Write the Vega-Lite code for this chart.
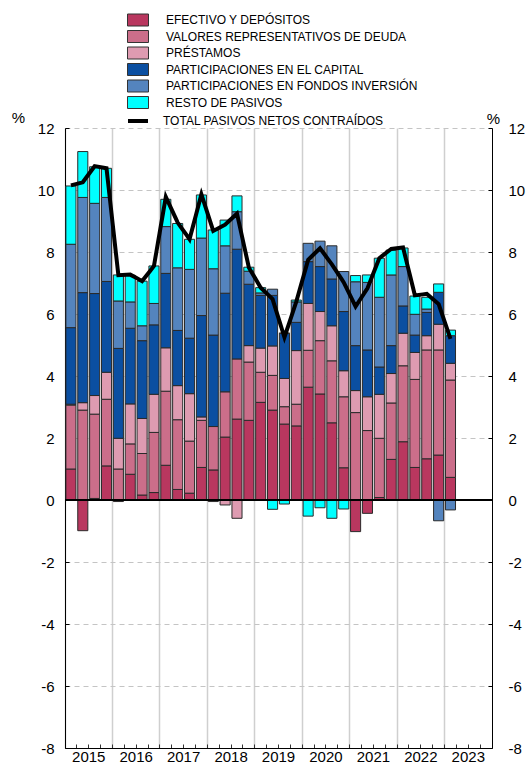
{
"$schema": "https://vega.github.io/schema/vega-lite/v6.json",
"width": 427, "height": 620,
"autosize": {"type": "none"},
"padding": {"left": 65, "top": 128, "right": 35, "bottom": 17},
"background": "white",
"config": {"view": {"stroke": null}, "font": "Liberation Sans"},
"data": {"values": [
{"t":"2015-T1","s1":1.0,"s2":2.06,"s3":0.03,"s4":2.47,"s5":2.69,"s6":1.88,"total":10.15},
{"t":"2015-T2","s1":-0.99,"s2":2.9,"s3":0.24,"s4":3.55,"s5":3.07,"s6":1.48,"total":10.25},
{"t":"2015-T3","s1":0.05,"s2":2.72,"s3":0.6,"s4":3.29,"s5":2.91,"s6":1.18,"total":10.77},
{"t":"2015-T4","s1":1.1,"s2":2.15,"s3":0.87,"s4":2.93,"s5":2.71,"s6":0.94,"total":10.7},
{"t":"2016-T1","s1":-0.05,"s2":1.0,"s3":0.99,"s4":2.9,"s5":1.53,"s6":0.84,"total":7.25},
{"t":"2016-T2","s1":0.83,"s2":0.98,"s3":1.29,"s4":2.44,"s5":0.85,"s6":0.86,"total":7.27},
{"t":"2016-T3","s1":0.16,"s2":1.34,"s3":1.13,"s4":2.51,"s5":0.48,"s6":1.44,"total":7.06},
{"t":"2016-T4","s1":0.24,"s2":1.94,"s3":1.23,"s4":2.24,"s5":0.69,"s6":1.21,"total":7.55},
{"t":"2017-T1","s1":1.12,"s2":2.39,"s3":1.4,"s4":2.4,"s5":1.51,"s6":0.88,"total":9.78},
{"t":"2017-T2","s1":0.34,"s2":2.25,"s3":1.1,"s4":1.78,"s5":2.02,"s6":1.43,"total":8.95},
{"t":"2017-T3","s1":0.22,"s2":1.68,"s3":1.53,"s4":1.79,"s5":2.22,"s6":0.97,"total":8.41},
{"t":"2017-T4","s1":1.05,"s2":1.52,"s3":0.11,"s4":3.27,"s5":2.5,"s6":1.39,"total":9.86},
{"t":"2018-T1","s1":0.97,"s2":1.4,"s3":-0.05,"s4":2.95,"s5":2.14,"s6":1.25,"total":8.68},
{"t":"2018-T2","s1":2.03,"s2":1.46,"s3":-0.16,"s4":3.18,"s5":1.53,"s6":0.83,"total":8.88},
{"t":"2018-T3","s1":2.61,"s2":1.94,"s3":-0.59,"s4":3.54,"s5":1.21,"s6":0.51,"total":9.24},
{"t":"2018-T4","s1":2.57,"s2":1.88,"s3":0.53,"s4":1.98,"s5":0.42,"s6":0.13,"total":7.5},
{"t":"2019-T1","s1":3.15,"s2":0.97,"s3":0.78,"s4":1.7,"s5":0.08,"s6":0.17,"total":6.85},
{"t":"2019-T2","s1":2.9,"s2":1.12,"s3":0.95,"s4":1.63,"s5":0.2,"s6":-0.3,"total":6.48},
{"t":"2019-T3","s1":2.45,"s2":0.56,"s3":0.91,"s4":1.46,"s5":0,"s6":-0.13,"total":5.25},
{"t":"2019-T4","s1":2.39,"s2":0.7,"s3":1.73,"s4":0.91,"s5":0.66,"s6":0.06,"total":6.4},
{"t":"2020-T1","s1":3.64,"s2":1.19,"s3":1.51,"s4":1.35,"s5":0.59,"s6":-0.52,"total":7.75},
{"t":"2020-T2","s1":3.42,"s2":1.72,"s3":0.94,"s4":1.45,"s5":0.82,"s6":-0.25,"total":8.12},
{"t":"2020-T3","s1":2.49,"s2":2.0,"s3":1.13,"s4":1.51,"s5":1.07,"s6":-0.59,"total":7.6},
{"t":"2020-T4","s1":1.04,"s2":2.29,"s3":0.84,"s4":1.91,"s5":1.29,"s6":-0.29,"total":7.02},
{"t":"2021-T1","s1":-1.02,"s2":2.82,"s3":0.71,"s4":1.45,"s5":2.06,"s6":0.2,"total":6.24},
{"t":"2021-T2","s1":-0.43,"s2":2.24,"s3":1.09,"s4":1.51,"s5":2.18,"s6":0.24,"total":6.83},
{"t":"2021-T3","s1":0.08,"s2":1.91,"s3":1.42,"s4":0.88,"s5":2.25,"s6":1.26,"total":7.8},
{"t":"2021-T4","s1":1.31,"s2":1.82,"s3":0.95,"s4":0.9,"s5":2.28,"s6":0.8,"total":8.1},
{"t":"2022-T1","s1":1.88,"s2":2.45,"s3":1.05,"s4":0.88,"s5":1.27,"s6":0.6,"total":8.15},
{"t":"2022-T2","s1":1.05,"s2":2.84,"s3":0.87,"s4":0.56,"s5":0.67,"s6":0.59,"total":6.6},
{"t":"2022-T3","s1":1.33,"s2":3.51,"s3":0.46,"s4":0.75,"s5":0.11,"s6":0.38,"total":6.65},
{"t":"2022-T4","s1":1.45,"s2":3.39,"s3":0.83,"s4":1.03,"s5":-0.67,"s6":0.27,"total":6.32},
{"t":"2023-T1","s1":0.73,"s2":3.14,"s3":0.54,"s4":0.89,"s5":-0.32,"s6":0.18,"total":5.2}
]},
"transform": [{"fold": ["s1","s2","s3","s4","s5","s6","total"], "as": ["serie","valor"]}],
"layer": [
{
"transform": [{"filter": "datum.serie !== 'total'"}],
"mark": {"type": "bar", "stroke": "#2a2a2a", "strokeWidth": 1},
"encoding": {
"x": {"field": "t", "type": "ordinal",
"scale": {"domain": ["2015-T1","2015-T2","2015-T3","2015-T4","2016-T1","2016-T2","2016-T3","2016-T4","2017-T1","2017-T2","2017-T3","2017-T4","2018-T1","2018-T2","2018-T3","2018-T4","2019-T1","2019-T2","2019-T3","2019-T4","2020-T1","2020-T2","2020-T3","2020-T4","2021-T1","2021-T2","2021-T3","2021-T4","2022-T1","2022-T2","2022-T3","2022-T4","2023-T1","2023-T2","2023-T3","2023-T4"], "paddingInner": 0.15, "paddingOuter": 0.075},
"axis": {"title": null, "orient": "bottom", "bandPosition": -0.088,
"labelExpr": "substring(datum.value,5)=='T1' ? substring(datum.value,0,4) : ''",
"labelAngle": 0, "labelAlign": "center", "labelBaseline": "top", "labelOffset": 17.8, "labelPadding": 5,
"labelFontSize": 15, "labelColor": "black", "labelOverlap": false, "labelBound": false,
"grid": true, "gridColor": "#cfcfcf", "gridWidth": 1.5,
"gridOpacity": {"condition": {"test": "substring(datum.value,5)=='T1'", "value": 1}, "value": 0},
"tickSize": -4, "tickColor": "#333", "tickWidth": 1, "domainColor": "black", "domainWidth": 1}},
"y": {"field": "valor", "type": "quantitative", "stack": "zero",
"scale": {"domain": [-8, 12], "nice": false, "zero": false},
"axis": {"orient": "left", "values": [-8,-6,-4,-2,0,2,4,6,8,10,12], "labelExpr": "datum.value + ''", "grid": true, "gridColor": "#c4c4c4", "gridDash": [5,4], "gridWidth": 1,
"domainColor": "black", "tickColor": "black", "tickSize": -4, "labelFontSize": 15, "labelColor": "black", "labelPadding": 15,
"title": "%", "titleAngle": 0, "titleX": -47, "titleY": -11, "titleAlign": "center", "titleBaseline": "middle", "titleFontSize": 15, "titleFontWeight": "normal", "titleColor": "black"}},
"order": {"field": "serie", "sort": "ascending"},
"color": {"field": "serie", "type": "nominal",
"scale": {"domain": ["s1","s2","s3","s4","s5","s6"], "range": ["#B9375F","#CB6E8A","#DE9BB1","#0B4FA1","#5484BE","#00FFFF"]},
"legend": {"orient": "none", "legendX": 65, "legendY": -116, "title": null, "direction": "vertical", "padding": 0,
"symbolType": "M-1.4,-0.8H1.4V0.8H-1.4Z", "symbolSize": 225, "symbolStrokeWidth": 1, "symbolStrokeColor": "#333", "symbolOpacity": 1,
"labelFontSize": 12, "labelColor": "black", "labelOffset": 20, "rowPadding": 0.5, "labelLimit": 400,
"labelExpr": "datum.value=='s1'?'EFECTIVO Y DEPÓSITOS':datum.value=='s2'?'VALORES REPRESENTATIVOS DE DEUDA':datum.value=='s3'?'PRÉSTAMOS':datum.value=='s4'?'PARTICIPACIONES EN EL CAPITAL':datum.value=='s5'?'PARTICIPACIONES EN FONDOS INVERSIÓN':'RESTO DE PASIVOS'"}}
}
},
{
"mark": {"type": "rule", "color": "black", "strokeWidth": 1},
"encoding": {"y": {"datum": 0, "type": "quantitative", "scale": {"domain": [-8, 12], "nice": false, "zero": false}, "axis": null}}
},
{
"transform": [{"filter": "datum.serie === 'total'"}],
"mark": {"type": "line", "color": "black", "strokeWidth": 4, "strokeJoin": "miter"},
"encoding": {
"x": {"field": "t", "type": "ordinal",
"scale": {"domain": ["2015-T1","2015-T2","2015-T3","2015-T4","2016-T1","2016-T2","2016-T3","2016-T4","2017-T1","2017-T2","2017-T3","2017-T4","2018-T1","2018-T2","2018-T3","2018-T4","2019-T1","2019-T2","2019-T3","2019-T4","2020-T1","2020-T2","2020-T3","2020-T4","2021-T1","2021-T2","2021-T3","2021-T4","2022-T1","2022-T2","2022-T3","2022-T4","2023-T1","2023-T2","2023-T3","2023-T4"], "paddingInner": 0.15, "paddingOuter": 0.075},
"axis": {"title": null, "orient": "bottom", "bandPosition": -0.088,
"labelExpr": "substring(datum.value,5)=='T1' ? substring(datum.value,0,4) : ''",
"labelAngle": 0, "labelAlign": "center", "labelBaseline": "top", "labelOffset": 17.8, "labelPadding": 5,
"labelFontSize": 15, "labelColor": "black", "labelOverlap": false, "labelBound": false,
"grid": true, "gridColor": "#cfcfcf", "gridWidth": 1.5,
"gridOpacity": {"condition": {"test": "substring(datum.value,5)=='T1'", "value": 1}, "value": 0},
"tickSize": -4, "tickColor": "#333", "tickWidth": 1, "domainColor": "black", "domainWidth": 1}},
"y": {"field": "valor", "type": "quantitative",
"scale": {"domain": [-8, 12], "nice": false, "zero": false},
"axis": {"orient": "right", "values": [-8,-6,-4,-2,0,2,4,6,8,10,12], "labelExpr": "datum.value + ''", "grid": false,
"domainColor": "black", "tickColor": "black", "tickSize": -4, "labelFontSize": 15, "labelColor": "black", "labelPadding": 20,
"title": "%", "titleAngle": 0, "titleX": 1, "titleY": -10, "titleAlign": "center", "titleBaseline": "middle", "titleFontSize": 15, "titleFontWeight": "normal", "titleColor": "black"}},
"strokeDash": {"datum": "TOTAL PASIVOS NETOS CONTRAÍDOS", "type": "nominal", "scale": {"range": [[10,0]]},
"legend": {"orient": "none", "legendX": 61, "legendY": -19, "title": null, "padding": 0, "symbolType": "stroke", "symbolSize": 400, "symbolStrokeWidth": 4, "symbolStrokeColor": "black", "labelFontSize": 12, "labelColor": "black", "labelOffset": 13, "labelLimit": 400}}
}
}
],
"resolve": {"axis": {"y": "independent"}}
}
